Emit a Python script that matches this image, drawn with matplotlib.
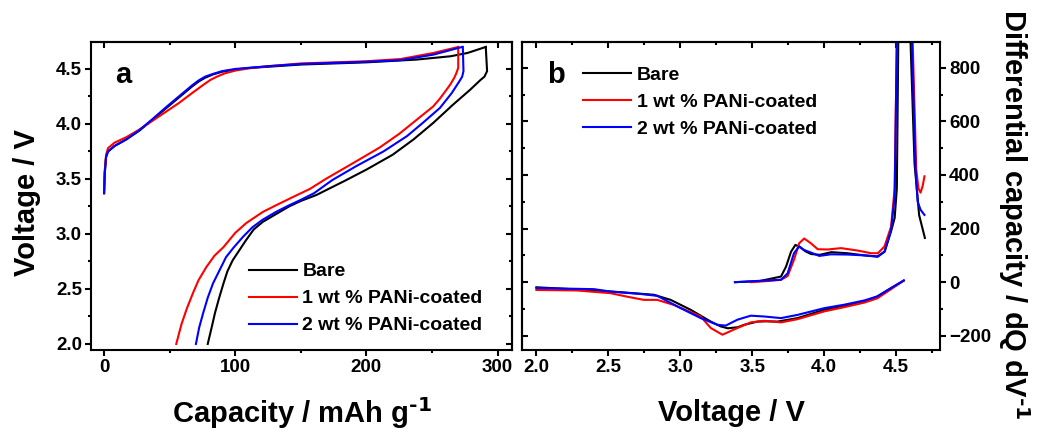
import matplotlib
matplotlib.use('Agg')
import matplotlib.pyplot as plt
from matplotlib.ticker import MultipleLocator, FormatStrFormatter

plt.rcParams['font.family'] = ['Liberation Sans', 'DejaVu Sans']
plt.rcParams['font.weight'] = 'bold'
plt.rcParams['axes.labelweight'] = 'bold'
plt.rcParams['mathtext.default'] = 'regular'
plt.rcParams['axes.linewidth'] = 1.5

labels = ['Bare', '1 wt % PANi-coated', '2 wt % PANi-coated']
colors = ['black', 'red', 'blue']

# (a) voltage profiles: capacity (mAh/g), voltage (V)
bare_chg_cap = [0, 0.5, 1.5, 3, 8, 17, 27, 37, 47, 57, 67, 72, 77, 83, 90, 100, 112, 125, 150, 200, 238, 264, 277, 291]
bare_chg_v = [3.37, 3.55, 3.70, 3.75, 3.80, 3.86, 3.94, 4.04, 4.14, 4.24, 4.34, 4.385, 4.42, 4.45, 4.475, 4.495, 4.51, 4.52, 4.54, 4.56, 4.585, 4.615, 4.645, 4.70]
bare_dis_cap = [291, 292, 290, 287, 279, 266, 251, 236, 220, 200, 183, 162, 150, 141, 131, 121, 114, 108, 103, 98, 94, 91, 87.5, 84.5, 82, 79]
bare_dis_v = [4.70, 4.48, 4.43, 4.40, 4.31, 4.175, 4.01, 3.86, 3.72, 3.585, 3.48, 3.355, 3.30, 3.25, 3.18, 3.11, 3.04, 2.94, 2.85, 2.76, 2.66, 2.55, 2.41, 2.28, 2.15, 2.0]

pani1_chg_cap = [0, 0.5, 1.5, 3, 8, 17, 27, 37, 47, 57, 67, 75, 81, 86, 92, 100, 110, 125, 150, 200, 226, 251, 270]
pani1_chg_v = [3.40, 3.58, 3.72, 3.78, 3.83, 3.88, 3.95, 4.03, 4.11, 4.19, 4.28, 4.35, 4.40, 4.43, 4.46, 4.485, 4.505, 4.525, 4.55, 4.57, 4.59, 4.645, 4.70]
pani1_dis_cap = [270, 270, 268.5, 267, 264, 261, 256, 251, 238, 225, 210, 190, 169, 157, 143, 131, 121, 108.5, 100, 91, 84, 78, 72, 68, 63, 59, 55]
pani1_dis_v = [4.70, 4.51, 4.46, 4.42, 4.36, 4.31, 4.23, 4.16, 4.035, 3.91, 3.785, 3.645, 3.50, 3.41, 3.33, 3.26, 3.20, 3.10, 3.01, 2.88, 2.80, 2.70, 2.58, 2.47, 2.32, 2.18, 2.0]

pani2_chg_cap = [0, 0.5, 1.5, 3, 8, 17, 27, 37, 47, 57, 67, 72, 77, 83, 90, 100, 112, 125, 150, 200, 226, 251, 273]
pani2_chg_v = [3.37, 3.56, 3.70, 3.75, 3.80, 3.86, 3.945, 4.045, 4.15, 4.25, 4.35, 4.395, 4.43, 4.455, 4.48, 4.50, 4.512, 4.525, 4.545, 4.565, 4.58, 4.63, 4.70]
pani2_dis_cap = [273.5, 274, 273, 271, 265, 256, 243, 231, 213, 192, 174, 160, 150, 141, 131, 121, 113, 106, 99, 93, 88, 83, 79, 75.5, 72.5, 70]
pani2_dis_v = [4.70, 4.48, 4.43, 4.39, 4.28, 4.145, 4.01, 3.89, 3.75, 3.615, 3.49, 3.37, 3.31, 3.26, 3.20, 3.13, 3.06, 2.975, 2.88, 2.79, 2.67, 2.55, 2.42, 2.28, 2.15, 2.0]

# (b) differential capacity: voltage (V), dQ/dV
bare_dq_chg_v = [3.38, 3.55, 3.70, 3.735, 3.77, 3.80, 3.83, 3.87, 3.91, 3.97, 4.05, 4.16, 4.28, 4.37, 4.42, 4.465, 4.49, 4.505, 4.515, 4.555, 4.60, 4.628, 4.66, 4.70]
bare_dq_chg = [0, 4, 21, 58, 114, 139, 132, 115, 105, 102, 112, 108, 100, 96, 114, 190, 240, 350, 900, 1600, 900, 443, 250, 165]
bare_dq_dis_v = [2.0, 2.42, 2.65, 2.817, 2.933, 3.072, 3.212, 3.281, 3.33, 3.40, 3.444, 3.537, 3.60, 3.676, 3.815, 4.0, 4.14, 4.28, 4.37, 4.465, 4.553]
bare_dq_dis = [-19, -31, -40, -47, -66, -103, -147, -165, -172, -168, -159, -147, -146, -147, -134, -103, -88, -72, -53, -22, 6]

pani1_dq_chg_v = [3.49, 3.60, 3.70, 3.746, 3.79, 3.826, 3.861, 3.908, 3.955, 4.024, 4.117, 4.233, 4.326, 4.373, 4.419, 4.465, 4.49, 4.505, 4.555, 4.615, 4.64, 4.655, 4.67, 4.685, 4.697]
pani1_dq_chg = [0, 4, 9, 23, 83, 145, 163, 145, 123, 122, 127, 118, 108, 108, 133, 207, 350, 900, 1600, 900, 420, 350, 334, 360, 395]
pani1_dq_dis_v = [2.0, 2.283, 2.515, 2.63, 2.747, 2.84, 2.956, 3.142, 3.212, 3.293, 3.397, 3.49, 3.583, 3.70, 3.815, 4.0, 4.14, 4.28, 4.37, 4.465, 4.553]
pani1_dq_dis = [-29, -31, -41, -54, -66, -66, -85, -128, -171, -196, -171, -150, -144, -150, -138, -109, -93, -76, -60, -26, 6]

pani2_dq_chg_v = [3.38, 3.55, 3.70, 3.746, 3.79, 3.826, 3.861, 3.92, 3.966, 4.047, 4.164, 4.279, 4.373, 4.42, 4.465, 4.49, 4.505, 4.555, 4.61, 4.635, 4.65, 4.67, 4.697]
pani2_dq_chg = [0, 5, 9, 33, 108, 133, 120, 108, 98, 104, 103, 100, 95, 114, 195, 320, 900, 1600, 900, 420, 300, 270, 251]
pani2_dq_dis_v = [2.0, 2.4, 2.515, 2.724, 2.84, 3.003, 3.142, 3.258, 3.316, 3.397, 3.49, 3.583, 3.70, 3.815, 4.0, 4.14, 4.28, 4.37, 4.465, 4.553]
pani2_dq_dis = [-22, -26, -35, -44, -51, -97, -134, -159, -162, -140, -125, -128, -134, -122, -97, -84, -68, -53, -22, 6]

fig = plt.figure(figsize=(10.37, 4.32), dpi=100)
axa = fig.add_axes([91/1037, 82/432, 421/1037, 308/432])
axb = fig.add_axes([522/1037, 82/432, 418/1037, 308/432])


def ticks(ax, xmaj, xmin, ymaj, ymin, yside):
    ax.xaxis.set_major_locator(MultipleLocator(xmaj))
    ax.xaxis.set_minor_locator(MultipleLocator(xmin))
    ax.yaxis.set_major_locator(MultipleLocator(ymaj))
    ax.yaxis.set_minor_locator(MultipleLocator(ymin))
    if yside == 'right':
        ax.yaxis.tick_right()
    ax.tick_params(which='both', direction='out', width=1.5, labelsize=13.5, pad=2)
    ax.tick_params(which='major', length=4.5)
    ax.tick_params(which='minor', length=2.5)
    # mirrored sides get inward ticks and no labels
    top = ax.secondary_xaxis('top')
    other = ax.secondary_yaxis('left' if yside == 'right' else 'right')
    top.xaxis.set_major_locator(MultipleLocator(xmaj))
    top.xaxis.set_minor_locator(MultipleLocator(xmin))
    other.yaxis.set_major_locator(MultipleLocator(ymaj))
    other.yaxis.set_minor_locator(MultipleLocator(ymin))
    for sec in (top, other):
        sec.tick_params(which='both', direction='in', width=1.5,
                        labeltop=False, labelbottom=False, labelleft=False, labelright=False)
        sec.tick_params(which='major', length=4.5)
        sec.tick_params(which='minor', length=2.5)


lw = 1.5

# panel a
for cc, cv, dc, dv, c in [(bare_chg_cap, bare_chg_v, bare_dis_cap, bare_dis_v, colors[0]),
                          (pani1_chg_cap, pani1_chg_v, pani1_dis_cap, pani1_dis_v, colors[1]),
                          (pani2_chg_cap, pani2_chg_v, pani2_dis_cap, pani2_dis_v, colors[2])]:
    axa.plot(cc, cv, color=c, lw=lw)
    axa.plot(dc, dv, color=c, lw=lw)
axa.set_xlim(-10, 311)
axa.set_ylim(1.945, 4.745)
ticks(axa, 100, 50, 0.5, 0.25, 'left')
axa.yaxis.set_major_formatter(FormatStrFormatter('%.1f'))
axa.set_xlabel(r'Capacity / mAh g$^{\text{-1}}$', fontsize=21, va='baseline')
axa.xaxis.set_label_coords(0.5, -0.236)
axa.set_ylabel('Voltage / V', fontsize=21, va='baseline')
axa.yaxis.set_label_coords(-0.133, 0.48)
axa.text(0.057, 0.867, 'a', transform=axa.transAxes, fontsize=21)
ha = [plt.Line2D([], [], color=c, lw=lw) for c in colors]
axa.legend(ha, labels, loc='upper left', bbox_to_anchor=(0.375, 0.283), frameon=False,
           fontsize=14, handlelength=2.45, handletextpad=0.3, labelspacing=0.48,
           borderpad=0, borderaxespad=0)

# panel b
for cv, cq, dv, dq, c in [(bare_dq_chg_v, bare_dq_chg, bare_dq_dis_v, bare_dq_dis, colors[0]),
                          (pani1_dq_chg_v, pani1_dq_chg, pani1_dq_dis_v, pani1_dq_dis, colors[1]),
                          (pani2_dq_chg_v, pani2_dq_chg, pani2_dq_dis_v, pani2_dq_dis, colors[2])]:
    axb.plot(cv, cq, color=c, lw=lw)
    axb.plot(dv, dq, color=c, lw=lw)
axb.set_xlim(1.9, 4.805)
axb.set_ylim(-253, 896)
ticks(axb, 0.5, 0.25, 200, 100, 'right')
axb.xaxis.set_major_formatter(FormatStrFormatter('%.1f'))
axb.set_xlabel('Voltage / V', fontsize=21, va='baseline')
axb.xaxis.set_label_coords(0.5, -0.23)
axb.yaxis.set_label_position('right')
axb.set_ylabel(r'Differential capacity / dQ dV$^{\text{-1}}$', fontsize=21, rotation=-90,
               va='baseline', ha='center')
axb.yaxis.set_label_coords(1.153, 0.44)
axb.text(0.059, 0.866, 'b', transform=axb.transAxes, fontsize=21)
axb.legend(ha, labels, loc='upper left', bbox_to_anchor=(0.146, 0.921), frameon=False,
           fontsize=14, handlelength=2.45, handletextpad=0.3, labelspacing=0.48,
           borderpad=0, borderaxespad=0)

fig.savefig('out.png', dpi=100)
